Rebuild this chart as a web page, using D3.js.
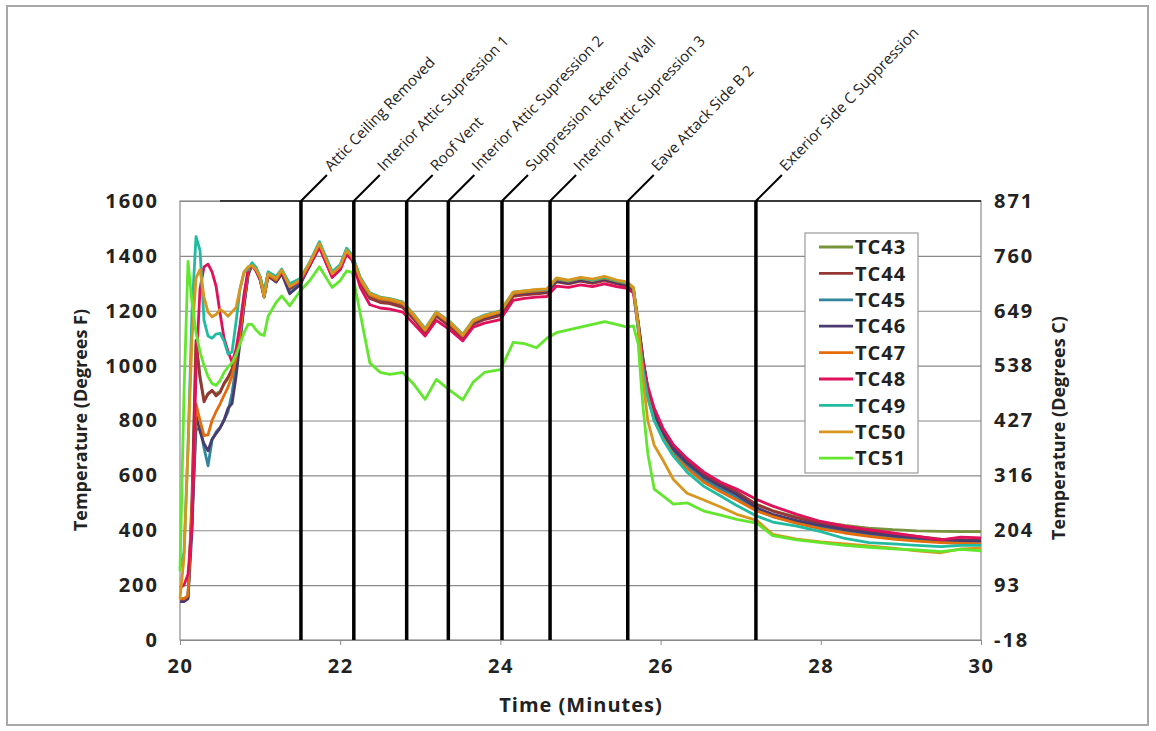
<!DOCTYPE html>
<html><head><meta charset="utf-8">
<script src="https://cdn.jsdelivr.net/npm/d3@7"></script>
<style>body{margin:0;background:#fff} svg{display:block}</style>
</head><body><svg id="c" width="1156" height="731"></svg>
<script>
const times = [20.00,20.05,20.10,20.15,20.20,20.25,20.30,20.35,20.40,20.45,20.50,20.55,20.60,20.65,20.70,20.75,20.80,20.85,
20.90,20.95,21.00,21.05,21.10,21.20,21.27,21.37,21.50,21.62,21.74,21.90,22.00,22.08,22.15,22.25,22.37,22.50,22.62,22.78,22.91,23.06,23.20,23.37,23.53,23.66,23.80,24.00,24.16,24.30,24.45,24.58,24.70,24.85,25.00,25.15,25.30,25.45,25.58,25.66,
25.72,25.78,25.84,25.92,26.03,26.16,26.33,26.54,26.75,26.95,27.20,27.40,27.70,28.00,28.30,28.60,28.90,29.20,29.50,29.75,30.00];

const tc43 = [150,150,158,480,1075,960,875,895,908,898,905,932,952,985,1045,1115,1240,1340,
1368,1348,1315,1255,1328,1310,1340,1285,1305,1368,1438,1326,1355,1412,1388,1305,1250,1236,1232,1218,1178,1122,1184,1146,1102,1155,1172,1188,1258,1262,1268,1270,1310,1302,1312,1305,1315,1302,1295,1278,
1160,1025,915,830,760,700,650,600,565,535,495,472,448,430,418,408,402,398,396,395,395];
const tc44 = [145,146,155,520,1092,955,868,898,910,890,902,936,958,988,1048,1105,1225,1332,
1370,1345,1312,1250,1325,1305,1335,1280,1302,1365,1435,1322,1350,1410,1385,1300,1245,1230,1226,1212,1172,1118,1180,1142,1098,1150,1168,1182,1252,1258,1262,1265,1305,1298,1308,1300,1310,1298,1290,1275,
1160,1025,915,835,765,705,655,605,568,540,493,470,445,425,410,398,388,378,368,366,365];
const tc45 = [150,150,160,450,765,775,700,635,728,758,775,800,832,900,1000,1110,1228,1335,
1372,1355,1322,1262,1338,1318,1345,1265,1300,1372,1448,1338,1365,1425,1400,1320,1262,1245,1240,1228,1185,1130,1192,1155,1110,1162,1180,1195,1265,1268,1272,1274,1312,1306,1316,1308,1318,1305,1298,1280,
1150,1020,905,815,745,685,635,585,550,520,472,450,428,410,395,385,375,368,360,358,358];
const tc46 = [140,140,150,400,820,760,715,690,732,752,772,802,845,862,960,1088,1220,1330,
1368,1348,1315,1250,1330,1305,1335,1262,1295,1365,1440,1330,1355,1415,1392,1312,1256,1240,1236,1222,1180,1126,1188,1150,1105,1156,1174,1190,1260,1264,1268,1270,1308,1302,1312,1305,1315,1302,1295,1278,
1155,1020,910,825,755,695,645,595,560,530,482,458,435,418,402,390,380,372,363,362,360];
const tc47 = [150,150,162,480,860,800,745,748,800,832,860,892,922,962,1030,1118,1238,1342,
1370,1352,1318,1258,1332,1312,1342,1292,1308,1372,1442,1328,1360,1418,1392,1312,1258,1242,1238,1225,1182,1128,1190,1152,1108,1160,1178,1195,1262,1268,1272,1275,1315,1308,1318,1310,1320,1308,1300,1282,
1140,1000,890,800,735,675,625,575,540,510,470,450,425,405,390,378,368,360,355,352,350];
const tc48 = [190,200,240,420,980,1280,1360,1370,1342,1290,1192,1100,1052,1012,1060,1150,1262,1350,
1365,1345,1318,1262,1335,1320,1340,1290,1305,1365,1430,1322,1350,1405,1385,1285,1222,1210,1206,1195,1155,1108,1165,1130,1090,1140,1155,1168,1238,1245,1250,1252,1290,1285,1294,1288,1298,1288,1282,1265,
1135,1015,925,845,772,712,662,612,575,550,512,488,458,432,415,402,390,378,365,375,372];
const tc49 = [260,320,700,1200,1470,1420,1165,1108,1100,1115,1118,1090,1042,1050,1160,1280,1340,1352,
1375,1358,1325,1268,1342,1325,1352,1298,1318,1378,1452,1342,1368,1428,1402,1322,1265,1250,1244,1232,1190,1135,1196,1160,1114,1166,1184,1200,1268,1272,1276,1278,1318,1310,1320,1312,1322,1310,1302,1284,
1130,990,880,800,730,670,612,560,525,490,452,430,415,395,370,355,350,345,340,345,345];
const tc50 = [150,300,700,1100,1320,1350,1250,1195,1178,1186,1205,1195,1180,1196,1212,1282,1342,1360,
1365,1350,1322,1250,1335,1318,1348,1288,1312,1375,1445,1335,1362,1420,1395,1318,1262,1248,1242,1230,1188,1132,1195,1158,1112,1165,1182,1198,1268,1272,1278,1280,1320,1312,1322,1315,1325,1312,1305,1285,
1150,950,800,710,655,585,535,510,485,458,436,385,368,358,350,343,335,325,318,332,335];
const tc51 = [250,900,1380,1230,1120,1050,1000,960,935,928,945,975,995,1010,1040,1080,1120,1150,
1150,1130,1115,1110,1180,1230,1254,1218,1272,1310,1360,1285,1310,1345,1340,1190,1010,975,968,975,935,877,950,910,875,940,975,985,1085,1080,1065,1100,1120,1130,1140,1150,1160,1150,1140,1145,
1080,850,680,550,525,495,500,470,455,440,426,380,365,355,345,338,332,328,322,330,325];

const seriesNames = ["TC43","TC44","TC45","TC46","TC47","TC48","TC49","TC50","TC51"];
const seriesValues = [tc43,tc44,tc45,tc46,tc47,tc48,tc49,tc50,tc51];
const seriesColors = ["#77933C","#953735","#31859C","#4B3A6E","#E46C0A","#E0105A","#20BBA0","#D9961E","#62E62E"];

const eventTimes = [21.51,22.17,22.83,23.35,24.02,24.62,25.59,27.19];
const eventLabels = ["Attic Ceiling Removed","Interior Attic Supression 1","Roof Vent","Interior Attic Supression 2",
  "Suppression Exterior Wall","Interior Attic Supression 3","Eave Attack Side B 2","Exterior Side C Suppression"];

const leftTicks = [0,200,400,600,800,1000,1200,1400,1600];
const rightTicks = [-18,93,204,316,427,538,649,760,871];
const xTicks = [20,22,24,26,28,30];

const svg = d3.select("#c");
const L = 180, R = 981, T = 201, B = 640;
const x = d3.scaleLinear().domain([20,30]).range([L,R]);
const y = d3.scaleLinear().domain([0,1600]).range([B,T]);
const yC = d3.scaleLinear().domain([(0-32)*5/9,(1600-32)*5/9]).range([B,T]);

// outer frame
svg.append("rect").attr("x",7).attr("y",6).attr("width",1141).attr("height",719)
  .attr("fill","#fff").attr("stroke","#a8a8a8").attr("stroke-width",2);

const font = "'Open Sans', 'DejaVu Sans', sans-serif";
const plain = d => String(d);

// gridlines
const grid = svg.append("g").attr("transform",`translate(${L},0)`)
  .call(d3.axisLeft(y).tickValues(leftTicks).tickSize(-(R-L)).tickFormat(""));
grid.select(".domain").remove();
grid.selectAll("line").attr("stroke","#8a8a8a").attr("stroke-width",1.2);

// plot border
svg.append("rect").attr("x",L).attr("y",T).attr("width",R-L).attr("height",B-T)
  .attr("fill","none").attr("stroke","#8a8a8a").attr("stroke-width",1.2);

// left labels
const la = svg.append("g").attr("transform",`translate(${L},0)`)
  .call(d3.axisLeft(y).tickValues(leftTicks).tickSize(0).tickPadding(21).tickFormat(plain));
la.select(".domain").remove();
la.selectAll("text").attr("font-family",font).attr("font-weight","bold").attr("font-size",20)
  .attr("letter-spacing",2).attr("fill","#222");

// right labels
const ra = svg.append("g").attr("transform",`translate(${R},0)`)
  .call(d3.axisRight(yC).tickValues(rightTicks).tickSize(0).tickPadding(13).tickFormat(plain));
ra.select(".domain").remove();
ra.selectAll("text").attr("font-family",font).attr("font-weight","bold").attr("font-size",20)
  .attr("letter-spacing",2).attr("fill","#222");

// bottom axis
const ba = svg.append("g").attr("transform",`translate(0,${B})`)
  .call(d3.axisBottom(x).tickValues(xTicks).tickSize(5).tickPadding(14).tickFormat(plain));
ba.select(".domain").attr("stroke","#8a8a8a");
ba.selectAll("line").attr("stroke","#8a8a8a");
ba.selectAll("text").attr("font-family",font).attr("font-weight","bold").attr("font-size",20)
  .attr("letter-spacing",1.5).attr("fill","#222");

// axis titles
svg.append("text").attr("transform","translate(87,420) rotate(-90)").attr("text-anchor","middle")
  .attr("font-family",font).attr("font-weight","bold").attr("font-size",18).attr("fill","#222")
  .text("Temperature (Degrees F)");
svg.append("text").attr("transform","translate(1065,428) rotate(-90)").attr("text-anchor","middle")
  .attr("font-family",font).attr("font-weight","bold").attr("font-size",18).attr("fill","#222")
  .text("Temperature (Degrees C)");
svg.append("text").attr("x",581).attr("y",712).attr("text-anchor","middle")
  .attr("font-family",font).attr("font-weight","bold").attr("font-size",20).attr("letter-spacing",1)
  .attr("fill","#222").text("Time (Minutes)");

// series
const line = d3.line().x((d,i)=>x(times[i])).y(d=>y(d));
seriesValues.forEach((vals,k)=>{
  svg.append("path").datum(vals).attr("d",line).attr("fill","none")
    .attr("stroke",seriesColors[k]).attr("stroke-width",2.8).attr("stroke-linejoin","round");
});

// top dark bar
svg.append("line").attr("x1",x(20.5)).attr("x2",R).attr("y1",T).attr("y2",T)
  .attr("stroke","#3a3a3a").attr("stroke-width",2);

// events
const ev = svg.append("g");
eventTimes.forEach((t,i)=>{
  const ex = x(t);
  ev.append("line").attr("x1",ex).attr("x2",ex).attr("y1",B).attr("y2",T)
    .attr("stroke","#000").attr("stroke-width",3.5);
  ev.append("line").attr("x1",ex).attr("x2",ex+26).attr("y1",T).attr("y2",T-26)
    .attr("stroke","#000").attr("stroke-width",2);
  ev.append("text").attr("transform",`translate(${ex+30},${T-29}) rotate(-46)`)
    .attr("font-family",font).attr("font-size",15).attr("fill","#222").text(eventLabels[i]);
});

// legend
const lg = svg.append("g");
lg.append("rect").attr("x",805).attr("y",233).attr("width",113).attr("height",240)
  .attr("fill","#fff").attr("stroke","#9a9a9a").attr("stroke-width",1.2);
seriesNames.forEach((n,i)=>{
  const yy = 247 + i*26.4;
  lg.append("line").attr("x1",819).attr("x2",853).attr("y1",yy).attr("y2",yy)
    .attr("stroke",seriesColors[i]).attr("stroke-width",2.8);
  lg.append("text").attr("x",855).attr("y",yy).attr("dy","0.36em")
    .attr("font-family",font).attr("font-weight","bold").attr("font-size",20).attr("letter-spacing",1)
    .attr("fill","#222").text(n);
});
</script></body></html>
